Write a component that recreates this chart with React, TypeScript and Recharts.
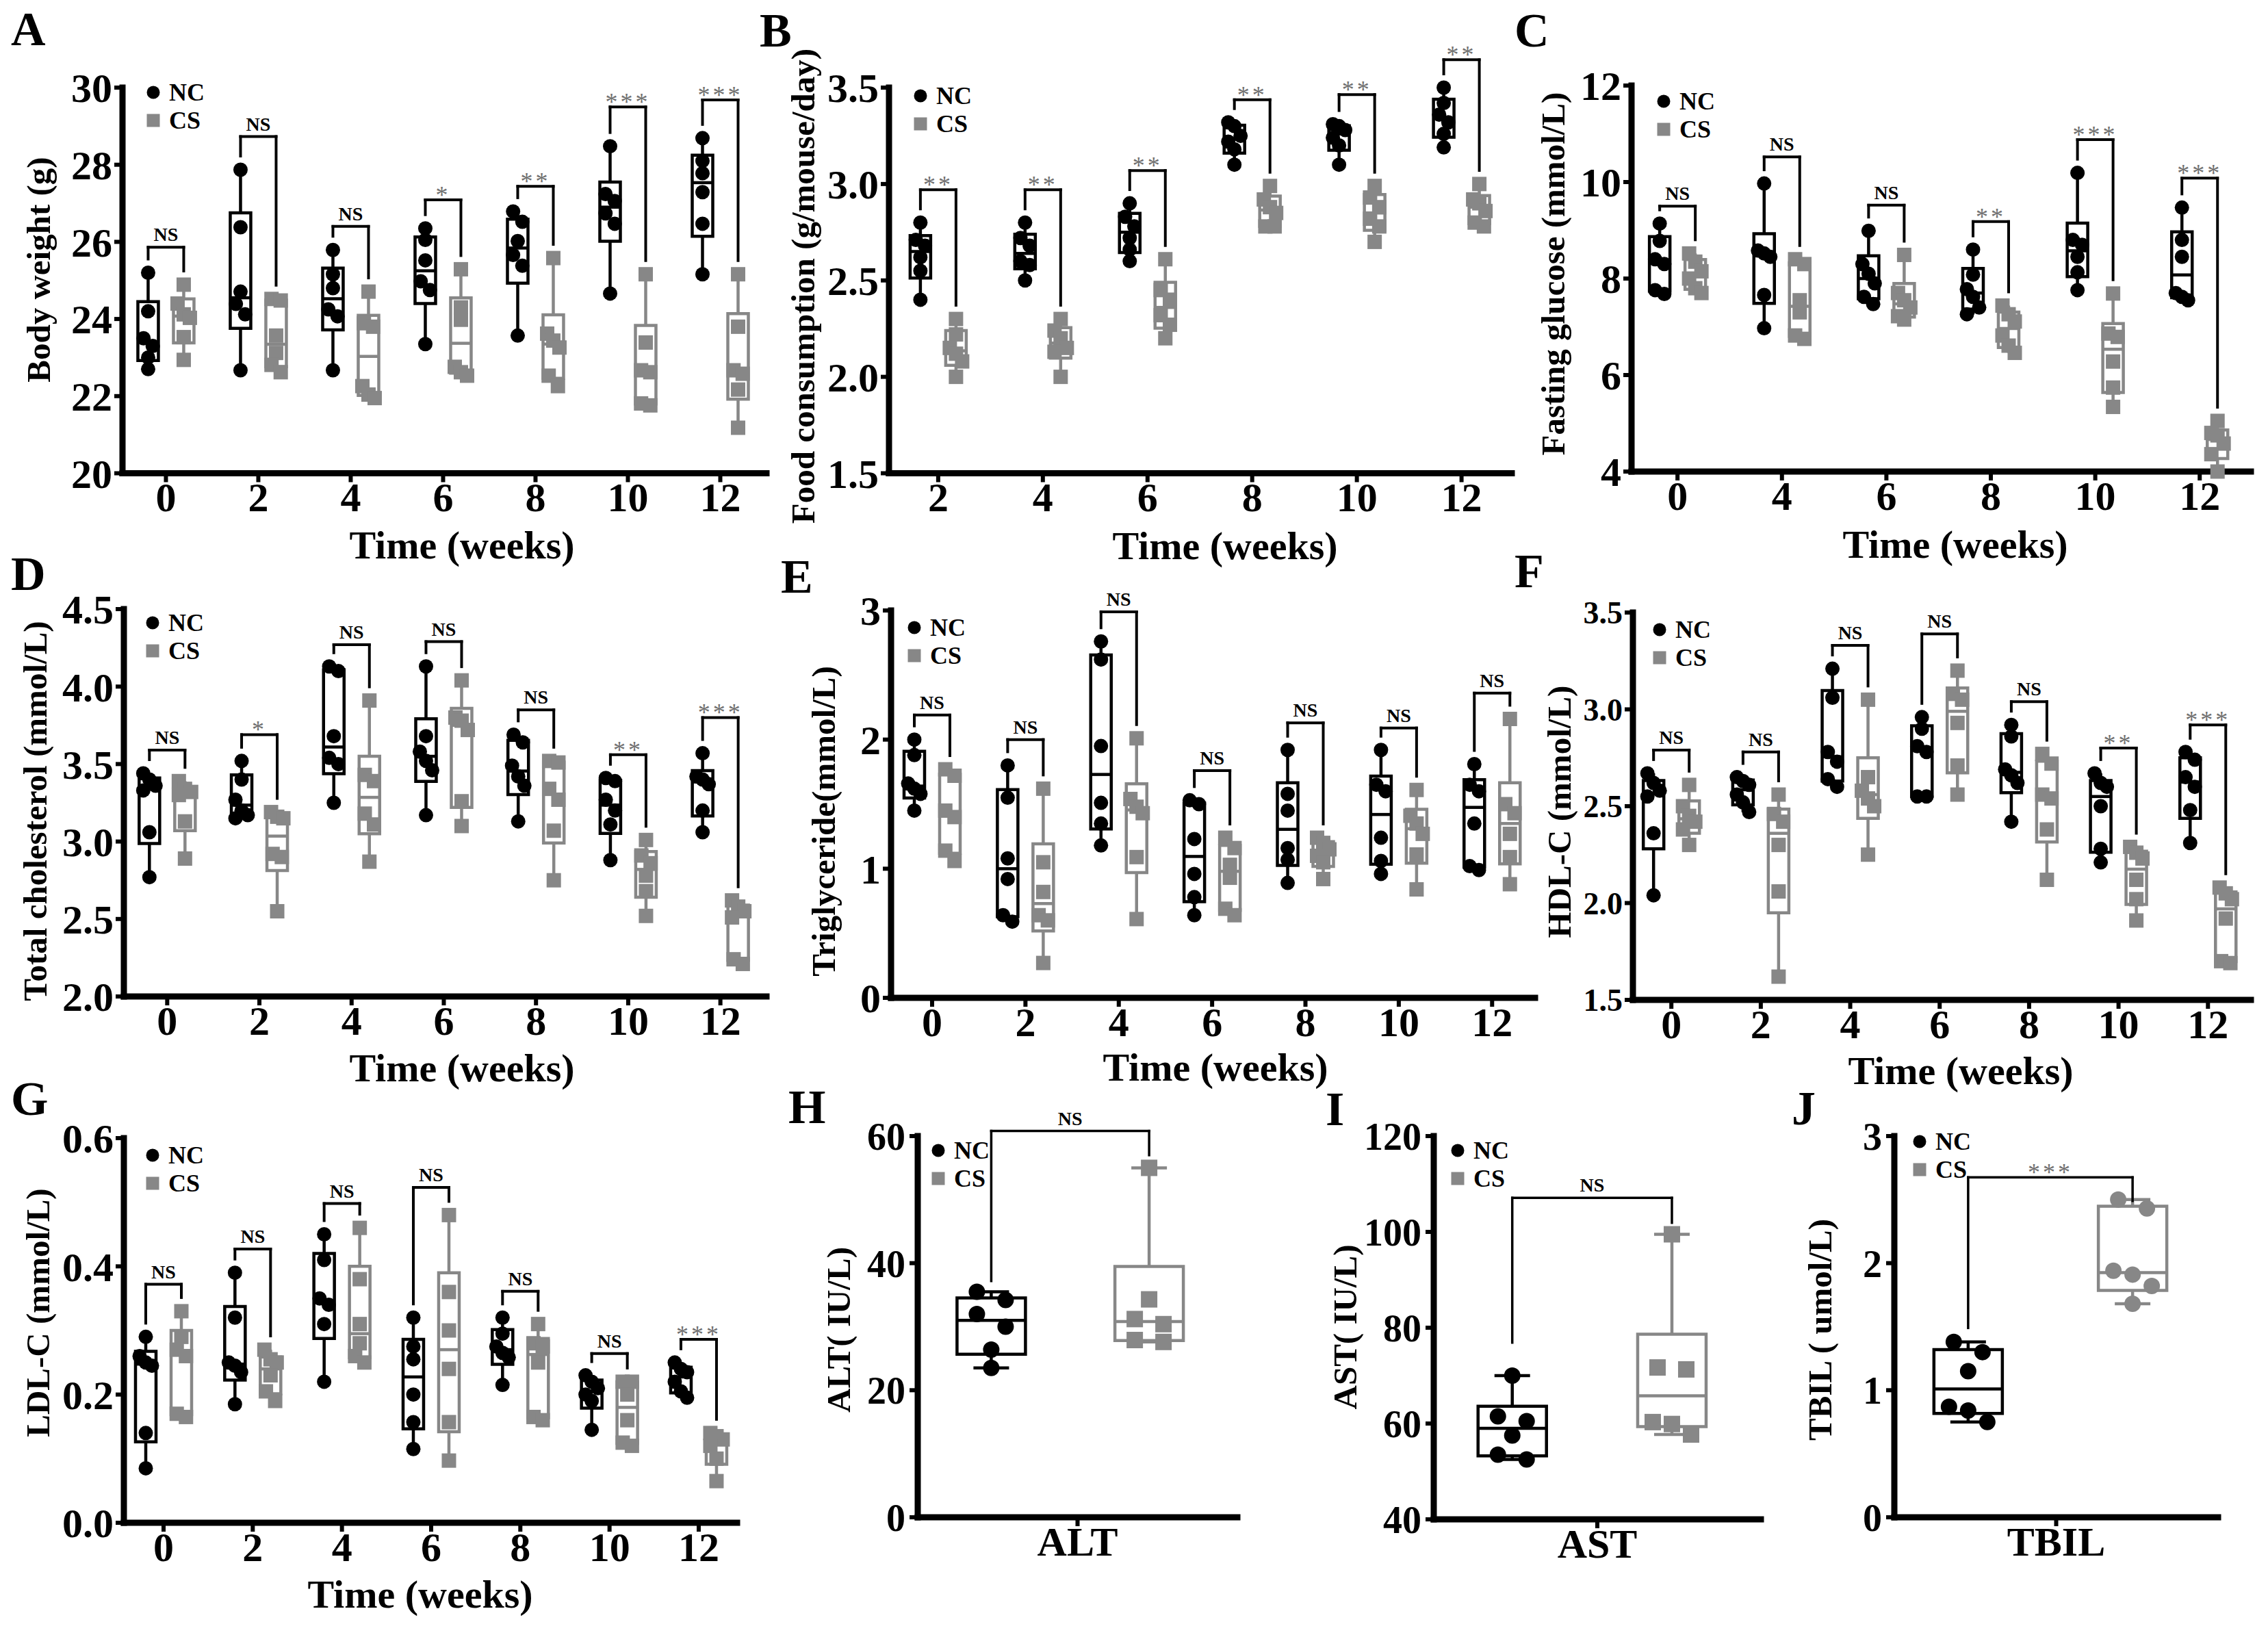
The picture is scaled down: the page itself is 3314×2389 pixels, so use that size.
import React from "react";
import {
  ScatterChart,
  Scatter,
  XAxis,
  YAxis,
  ReferenceArea,
  ReferenceLine,
  ReferenceDot,
} from "recharts";

const FONT = '"Liberation Serif", "Times New Roman", Times, serif';
const NC_COLOR = "#000000";
const CS_COLOR = "#878787";
const STAR_COLOR = "#707070";

// ---------- categories ----------
const weeks7 = ["0", "2", "4", "6", "8", "10", "12"];
const weeksFood = ["2", "4", "6", "8", "10", "12"];
const weeksGlucose = ["0", "4", "6", "8", "10", "12"];

// ---------- A: body weight (g) ----------
const bodyWeightNC = [
  [25.2, 24.2, 23.5, 23.3, 23.0, 22.7],
  [27.87, 26.38, 24.71, 24.39, 24.12, 22.67],
  [25.79, 25.16, 24.8, 24.25, 24.07, 22.67],
  [26.35, 26.05, 25.52, 24.98, 24.75, 23.35],
  [26.79, 26.52, 26.02, 25.66, 25.38, 23.57],
  [28.48, 27.24, 27.06, 26.74, 26.47, 24.66],
  [28.69, 28.1, 27.78, 27.29, 26.47, 25.16],
];
const bodyWeightCS = [
  [24.89, 24.4, 24.12, 24.03, 23.53, 22.94],
  [24.52, 24.48, 23.57, 23.12, 22.81, 22.62],
  [24.71, 23.89, 23.8, 22.26, 22.04, 21.95],
  [25.29, 24.3, 23.98, 22.76, 22.62, 22.53],
  [25.58, 23.62, 23.44, 23.26, 22.53, 22.26],
  [25.16, 23.39, 22.67, 22.62, 21.81, 21.76],
  [25.16, 23.8, 22.67, 22.58, 22.17, 21.18],
];
const bodyWeightTop = [25.86, 28.73, 26.4, 27.09, 27.44, 29.5, 29.68];
const bodyWeightSig = ["NS", "NS", "NS", "*", "**", "***", "***"];

// ---------- B: food consumption ----------
const foodNC = [
  [2.8, 2.71, 2.68, 2.62, 2.55, 2.4],
  [2.8, 2.72, 2.68, 2.6, 2.58, 2.5],
  [2.9, 2.83, 2.78, 2.72, 2.66, 2.6],
  [3.32, 3.3, 3.25, 3.22, 3.18, 3.1],
  [3.31, 3.3, 3.28, 3.24, 3.2, 3.1],
  [3.5, 3.42, 3.36, 3.32, 3.26, 3.19],
];
const foodCS = [
  [2.3, 2.22, 2.15, 2.12, 2.08, 2.0],
  [2.3, 2.24, 2.2, 2.15, 2.13, 2.0],
  [2.61, 2.45, 2.4, 2.32, 2.27, 2.2],
  [2.99, 2.92, 2.88, 2.85, 2.78, 2.78],
  [2.99, 2.93, 2.88, 2.82, 2.78, 2.7],
  [3.0, 2.92, 2.9, 2.86, 2.8, 2.78],
];
const foodTop = [2.97, 2.97, 3.07, 3.437, 3.464, 3.645];
const foodSig = ["**", "**", "**", "**", "**", "**"];

// ---------- C: fasting glucose ----------
const glucoseNC = [
  [9.14, 8.78, 8.4, 8.3, 7.76, 7.68],
  [9.97, 8.58, 8.52, 8.45, 7.66, 6.97],
  [8.99, 8.3, 8.1, 7.9, 7.62, 7.47],
  [8.6, 8.08, 7.78, 7.62, 7.4, 7.26],
  [10.19, 8.8, 8.7, 8.45, 8.13, 7.76],
  [9.47, 8.8, 8.45, 7.7, 7.62, 7.55],
];
const glucoseCS = [
  [8.52, 8.35, 8.15, 8.0, 7.8, 7.7],
  [8.4, 8.3, 7.55, 7.3, 6.82, 6.75],
  [8.49, 7.7, 7.55, 7.4, 7.22, 7.15],
  [7.44, 7.26, 7.11, 6.82, 6.61, 6.46],
  [7.69, 6.86, 6.79, 6.28, 5.74, 5.34],
  [5.05, 4.8, 4.75, 4.58, 4.36, 4.0],
];
const glucoseTop = [9.5, 10.52, 9.52, 9.18, 10.88, 10.08];
const glucoseSig = ["NS", "NS", "NS", "**", "***", "***"];

// ---------- D: total cholesterol ----------
const cholNC = [
  [3.44, 3.4, 3.36, 3.33, 3.06, 2.77],
  [3.52, 3.4, 3.27, 3.2, 3.17, 3.15],
  [4.13, 4.1, 3.68, 3.54, 3.5, 3.25],
  [4.13, 3.68, 3.58, 3.52, 3.46, 3.17],
  [3.69, 3.64, 3.49, 3.42, 3.36, 3.13],
  [3.41, 3.39, 3.27, 3.2, 3.11, 2.88],
  [3.57, 3.42, 3.4, 3.37, 3.2, 3.06],
];
const cholCS = [
  [3.39, 3.34, 3.32, 3.3, 3.13, 2.89],
  [3.19, 3.16, 3.15, 2.92, 2.9, 2.55],
  [3.91, 3.43, 3.39, 3.18, 3.11, 2.87],
  [4.04, 3.8, 3.78, 3.72, 3.26, 3.1],
  [3.52, 3.51, 3.34, 3.27, 3.07, 2.75],
  [3.01, 2.91, 2.86, 2.78, 2.68, 2.52],
  [2.62, 2.58, 2.55, 2.51, 2.24, 2.21],
];
const cholTop = [3.59, 3.69, 4.27, 4.29, 3.85, 3.56, 3.8];
const cholSig = ["NS", "*", "NS", "NS", "NS", "**", "***"];

// ---------- E: triglyceride ----------
const tgNC = [
  [2.0, 1.88, 1.66, 1.62, 1.58, 1.45],
  [1.8, 1.55, 1.08, 0.92, 0.64, 0.59],
  [2.76, 2.62, 1.95, 1.51, 1.35, 1.18],
  [1.53, 1.5, 1.23, 0.96, 0.78, 0.64],
  [1.92, 1.58, 1.45, 1.16, 1.07, 0.89],
  [1.92, 1.65, 1.6, 1.24, 1.06, 0.96],
  [1.81, 1.65, 1.6, 1.35, 1.02, 0.99],
];
const tgCS = [
  [1.77, 1.72, 1.45, 1.4, 1.14, 1.06],
  [1.62, 1.05, 0.82, 0.64, 0.6, 0.27],
  [2.01, 1.54, 1.48, 1.43, 1.09, 0.61],
  [1.24, 1.16, 1.03, 0.93, 0.69, 0.64],
  [1.24, 1.2, 1.15, 1.1, 1.05, 0.92],
  [1.61, 1.41, 1.35, 1.27, 1.11, 0.84],
  [2.16, 1.5, 1.43, 1.27, 1.09, 0.88],
];
const tgTop = [2.19, 2.0, 2.99, 1.76, 2.13, 2.09, 2.36];
const tgSig = ["NS", "NS", "NS", "NS", "NS", "NS", "NS"];

// ---------- F: HDL-C ----------
const hdlNC = [
  [2.67, 2.62, 2.58, 2.55, 2.36, 2.04],
  [2.65, 2.63, 2.61, 2.56, 2.52, 2.47],
  [3.21, 3.06, 2.78, 2.73, 2.64, 2.6],
  [2.96, 2.9, 2.81, 2.78, 2.55, 2.55],
  [2.92, 2.86, 2.69, 2.66, 2.62, 2.42],
  [2.67, 2.62, 2.6, 2.5, 2.28, 2.21],
  [2.78, 2.74, 2.65, 2.6, 2.48, 2.31],
];
const hdlCS = [
  [2.61, 2.5, 2.45, 2.42, 2.38, 2.3],
  [2.56, 2.46, 2.42, 2.3, 2.06, 1.62],
  [3.05, 2.65, 2.58, 2.54, 2.5, 2.25],
  [3.2, 3.08, 3.05, 2.93, 2.71, 2.56],
  [2.77, 2.72, 2.56, 2.54, 2.38, 2.12],
  [2.29, 2.26, 2.23, 2.12, 2.02, 1.91],
  [2.08, 2.05, 2.02, 1.92, 1.7, 1.69],
];
const hdlTop = [2.79, 2.78, 3.33, 3.39, 3.04, 2.8, 2.92];
const hdlSig = ["NS", "NS", "NS", "NS", "NS", "**", "***"];

// ---------- G: LDL-C ----------
const ldlNC = [
  [0.29, 0.26, 0.25, 0.245, 0.14, 0.085],
  [0.39, 0.32, 0.25, 0.245, 0.235, 0.185],
  [0.45, 0.41, 0.35, 0.34, 0.31, 0.22],
  [0.32, 0.275, 0.255, 0.2, 0.157, 0.115],
  [0.32, 0.295, 0.275, 0.265, 0.258, 0.215],
  [0.23, 0.22, 0.21, 0.2, 0.19, 0.145],
  [0.25, 0.24, 0.235, 0.22, 0.205, 0.195],
];
const ldlCS = [
  [0.33, 0.29, 0.27, 0.26, 0.17, 0.165],
  [0.27, 0.255, 0.25, 0.23, 0.205, 0.19],
  [0.46, 0.38, 0.31, 0.28, 0.26, 0.25],
  [0.48, 0.36, 0.3, 0.24, 0.157, 0.097],
  [0.31, 0.28, 0.275, 0.25, 0.165, 0.16],
  [0.22, 0.22, 0.2, 0.16, 0.125, 0.12],
  [0.14, 0.135, 0.13, 0.12, 0.1, 0.065],
];
const ldlTop = [0.372, 0.427, 0.498, 0.523, 0.361, 0.264, 0.286];
const ldlSig = ["NS", "NS", "NS", "NS", "NS", "NS", "***"];

// ---------- H, I, J: liver markers ----------
const altNC = [[35.5, 34.2, 32.0, 30.0, 26.4, 23.5]];
const altCS = [[55.0, 34.3, 31.2, 30.4, 27.9, 27.6]];
const altTop = [60.8];
const altLegs: [number, number][] = [[37.2, 57.0]];
const altSig = ["NS"];

const astNC = [[70.0, 61.5, 60.5, 57.5, 53.5, 52.5]];
const astCS = [[99.5, 71.7, 71.3, 60.3, 59.9, 57.7]];
const astTop = [107.1];
const astLegs: [number, number][] = [[76.9, 101.9]];
const astSig = ["NS"];

const tbilNC = [[1.38, 1.3, 1.15, 0.87, 0.84, 0.75]];
const tbilCS = [[2.5, 2.43, 1.94, 1.91, 1.82, 1.68]];
const tbilTop = [2.675];
const tbilLegs: [number, number][] = [[1.49, 2.49]];
const tbilSig = ["***"];

// ---------- helpers ----------
function boxStats(vals: number[]) {
  const s = [...vals].sort((a, b) => a - b);
  const n = s.length;
  const at = (p: number) => {
    const h = (n + 1) * p;
    const lo = Math.floor(h);
    if (lo < 1) return s[0];
    if (lo >= n) return s[n - 1];
    return s[lo - 1] + (h - lo) * (s[lo] - s[lo - 1]);
  };
  return { min: s[0], q1: at(0.25), med: at(0.5), q3: at(0.75), max: s[n - 1] };
}

// horizontal spreading of overlapping points (in px)
function spreadOffsets(vals: number[], pxPerUnit: number, r: number, step: number) {
  const order = vals.map((_, i) => i).sort((a, b) => vals[b] - vals[a]);
  const off = vals.map(() => 0);
  let cluster: number[] = [];
  const flush = () => {
    if (cluster.length === 2) {
      off[cluster[0]] = -0.75 * step;
      off[cluster[1]] = 0.75 * step;
    } else if (cluster.length >= 3) {
      cluster.forEach((id, j) => {
        off[id] = ((j % 3) - 1) * step;
      });
    }
  };
  order.forEach((id, j) => {
    if (j > 0 && (vals[order[j - 1]] - vals[id]) * pxPerUnit < 1.6 * r) cluster.push(id);
    else {
      flush();
      cluster = [id];
    }
  });
  flush();
  return off;
}

type PanelCfg = {
  letter: string;
  letterAt: [number, number];
  plot: { left: number; top: number; right: number; bottom: number };
  yDomain: [number, number];
  yTicks: number[];
  yDec: number;
  yFont: number;
  xDomain: [number, number];
  xTicks: number[];
  xLabels: string[];
  nc: number[][];
  cs: number[][];
  tops: number[];
  sig: string[];
  legs?: [number, number][];
  centers?: [number, number];
  yTitle: string;
  yTitleAt: [number, number];
  xTitleAt?: [number, number];
  legendAt: [number, number];
  single?: boolean;
  csCircle?: boolean;
};

const idx = (n: number) => Array.from({ length: n }, (_, i) => i);

const panels: PanelCfg[] = [
  {
    letter: "A", letterAt: [16, 20],
    plot: { left: 179, top: 127.5, right: 1120, bottom: 691 },
    yDomain: [20, 30], yTicks: [20, 22, 24, 26, 28, 30], yDec: 0, yFont: 60,
    xDomain: [-0.47, 6.5], xTicks: idx(7), xLabels: weeks7,
    nc: bodyWeightNC, cs: bodyWeightCS, tops: bodyWeightTop, sig: bodyWeightSig,
    yTitle: "Body weight (g)", yTitleAt: [61, 394], xTitleAt: [675, 803], legendAt: [224, 135],
  },
  {
    letter: "B", letterAt: [1110, 22],
    plot: { left: 1299, top: 127.5, right: 2209, bottom: 691 },
    yDomain: [1.5, 3.5], yTicks: [1.5, 2, 2.5, 3, 3.5], yDec: 1, yFont: 60,
    xDomain: [-0.47, 5.48], xTicks: idx(6), xLabels: weeksFood,
    nc: foodNC, cs: foodCS, tops: foodTop, sig: foodSig,
    yTitle: "Food consumption (g/mouse/day)", yTitleAt: [1178, 418], xTitleAt: [1790, 804], legendAt: [1345, 140],
  },
  {
    letter: "C", letterAt: [2213, 22],
    plot: { left: 2384, top: 125, right: 3289, bottom: 689 },
    yDomain: [4, 12], yTicks: [4, 6, 8, 10, 12], yDec: 0, yFont: 60,
    xDomain: [-0.44, 5.49], xTicks: idx(6), xLabels: weeksGlucose,
    nc: glucoseNC, cs: glucoseCS, tops: glucoseTop, sig: glucoseSig,
    yTitle: "Fasting glucose (mmol/L)", yTitleAt: [2274, 400], xTitleAt: [2857, 802], legendAt: [2431, 148],
  },
  {
    letter: "D", letterAt: [16, 816],
    plot: { left: 181, top: 890, right: 1120, bottom: 1456 },
    yDomain: [2, 4.5], yTicks: [2, 2.5, 3, 3.5, 4, 4.5], yDec: 1, yFont: 60,
    xDomain: [-0.47, 6.5], xTicks: idx(7), xLabels: weeks7,
    nc: cholNC, cs: cholCS, tops: cholTop, sig: cholSig,
    yTitle: "Total cholesterol (mmol/L)", yTitleAt: [56, 1185], xTitleAt: [675, 1567], legendAt: [223, 910],
  },
  {
    letter: "E", letterAt: [1141, 820],
    plot: { left: 1302, top: 892, right: 2243, bottom: 1458 },
    yDomain: [0, 3], yTicks: [0, 1, 2, 3], yDec: 0, yFont: 60,
    xDomain: [-0.44, 6.46], xTicks: idx(7), xLabels: weeks7,
    nc: tgNC, cs: tgCS, tops: tgTop, sig: tgSig,
    yTitle: "Triglyceride(mmol/L)", yTitleAt: [1208, 1200], xTitleAt: [1776, 1566], legendAt: [1336, 917],
  },
  {
    letter: "F", letterAt: [2213, 812],
    plot: { left: 2386, top: 895, right: 3289, bottom: 1461 },
    yDomain: [1.5, 3.5], yTicks: [1.5, 2, 2.5, 3, 3.5], yDec: 1, yFont: 46,
    xDomain: [-0.43, 6.48], xTicks: idx(7), xLabels: weeks7,
    nc: hdlNC, cs: hdlCS, tops: hdlTop, sig: hdlSig,
    yTitle: "HDL-C (mmol/L)", yTitleAt: [2283, 1186], xTitleAt: [2865, 1571], legendAt: [2425, 920],
  },
  {
    letter: "G", letterAt: [16, 1583],
    plot: { left: 181, top: 1663, right: 1077, bottom: 2225 },
    yDomain: [0, 0.6], yTicks: [0, 0.2, 0.4, 0.6], yDec: 1, yFont: 60,
    xDomain: [-0.445, 6.43], xTicks: idx(7), xLabels: weeks7,
    nc: ldlNC, cs: ldlCS, tops: ldlTop, sig: ldlSig,
    yTitle: "LDL-C (mmol/L)", yTitleAt: [60, 1918], xTitleAt: [614, 2336], legendAt: [223, 1688],
  },
  {
    letter: "H", letterAt: [1152, 1595],
    plot: { left: 1341, top: 1660, right: 1808, bottom: 2217 },
    yDomain: [0, 60], yTicks: [0, 20, 40, 60], yDec: 0, yFont: 56,
    xDomain: [0, 1], xTicks: [0.5], xLabels: ["ALT"],
    nc: altNC, cs: altCS, tops: altTop, sig: altSig, legs: altLegs, centers: [0.23, 0.724],
    yTitle: "ALT( IU/L)", yTitleAt: [1230, 1943], legendAt: [1371, 1681], single: true,
  },
  {
    letter: "I", letterAt: [1937, 1598],
    plot: { left: 2095, top: 1660, right: 2573, bottom: 2220 },
    yDomain: [40, 120], yTicks: [40, 60, 80, 100, 120], yDec: 0, yFont: 56,
    xDomain: [0, 1], xTicks: [0.5], xLabels: ["AST"],
    nc: astNC, cs: astCS, tops: astTop, sig: astSig, legs: astLegs, centers: [0.24, 0.728],
    yTitle: "AST( IU/L)", yTitleAt: [1970, 1939], legendAt: [2130, 1681], single: true,
  },
  {
    letter: "J", letterAt: [2618, 1597],
    plot: { left: 2768, top: 1660, right: 3241, bottom: 2217 },
    yDomain: [0, 3], yTicks: [0, 1, 2, 3], yDec: 0, yFont: 56,
    xDomain: [0, 1], xTicks: [0.5], xLabels: ["TBIL"],
    nc: tbilNC, cs: tbilCS, tops: tbilTop, sig: tbilSig, legs: tbilLegs, centers: [0.228, 0.736],
    yTitle: "TBIL ( umol/L)", yTitleAt: [2664, 1943], legendAt: [2805, 1668], single: true, csCircle: true,
  },
];

const YW = 170;
const MT = 130;
const MR = 20;
const XH = 120;

function Panel({ cfg }: { cfg: PanelCfg }) {
  const { plot } = cfg;
  const plotW = plot.right - plot.left;
  const plotH = plot.bottom - plot.top;
  const uX = plotW / (cfg.xDomain[1] - cfg.xDomain[0]);
  const uY = plotH / (cfg.yDomain[1] - cfg.yDomain[0]);
  const single = !!cfg.single;
  const boxHalf = (single ? 50 : 15) / uX;
  const capHalf = 26 / uX;
  const sw = 4.5;
  const r = single ? 12 : 10.5;
  const step = single ? 28 : 9;
  const lift = 20 / uY;
  const bw = single ? 3.5 : 4;

  const ncPts: { x: number; y: number }[] = [];
  const csPts: { x: number; y: number }[] = [];
  const areas: React.ReactElement[] = [];
  const lines: React.ReactElement[] = [];
  const labels: React.ReactElement[] = [];

  cfg.nc.forEach((ncVals, g) => {
    const csVals = cfg.cs[g];
    const xs = single && cfg.centers ? cfg.centers : [g - 26 / uX, g + 26 / uX];
    [ncVals, csVals].forEach((vals, s) => {
      const color = s === 0 ? NC_COLOR : CS_COLOR;
      const cx = xs[s];
      const st = boxStats(vals);
      const k = `${g}-${s}`;
      areas.push(
        <ReferenceArea
          key={`box${k}`}
          x1={cx - boxHalf}
          x2={cx + boxHalf}
          y1={st.q1}
          y2={st.q3}
          fill="none"
          fillOpacity={0}
          stroke={color}
          strokeWidth={sw}
          ifOverflow="visible"
        />
      );
      const seg = (id: string, x1: number, y1: number, x2: number, y2: number) =>
        lines.push(
          <ReferenceLine
            key={id + k}
            segment={[{ x: x1, y: y1 }, { x: x2, y: y2 }]}
            stroke={color}
            strokeWidth={sw}
            ifOverflow="visible"
          />
        );
      seg("med", cx - boxHalf, st.med, cx + boxHalf, st.med);
      seg("wt", cx, st.q3, cx, st.max);
      seg("wb", cx, st.q1, cx, st.min);
      if (single) {
        seg("ct", cx - capHalf, st.max, cx + capHalf, st.max);
        seg("cb", cx - capHalf, st.min, cx + capHalf, st.min);
      }
      const off = spreadOffsets(vals, uY, r, step);
      vals.forEach((v, i) => (s === 0 ? ncPts : csPts).push({ x: cx + off[i] / uX, y: v }));
    });

    const top = cfg.tops[g];
    const legL = cfg.legs ? cfg.legs[g][0] : Math.max(...ncVals) + lift;
    const legR = cfg.legs ? cfg.legs[g][1] : Math.max(...csVals) + lift;
    const bracket = (id: string, x1: number, y1: number, x2: number, y2: number) =>
      lines.push(
        <ReferenceLine
          key={`${id}${g}`}
          segment={[{ x: x1, y: y1 }, { x: x2, y: y2 }]}
          stroke="#000"
          strokeWidth={bw}
          strokeLinecap="square"
          ifOverflow="visible"
        />
      );
    bracket("bl", xs[0], legL, xs[0], top);
    bracket("bt", xs[0], top, xs[1], top);
    bracket("br", xs[1], top, xs[1], legR);

    const text = cfg.sig[g];
    const star = text.includes("*");
    labels.push(
      <ReferenceDot
        key={`sig${g}`}
        x={(xs[0] + xs[1]) / 2}
        y={top}
        r={0}
        ifOverflow="visible"
        shape={(p: any) => (
          <text
            x={p.cx}
            y={star ? p.cy + 5 : p.cy - 9}
            textAnchor="middle"
            fontFamily={FONT}
            fontSize={star ? 36 : 28}
            fontWeight={star ? 400 : 700}
            letterSpacing={star ? 4 : 0}
            fill={star ? STAR_COLOR : "#000"}
          >
            {text}
          </text>
        )}
      />
    );
  });

  const fmtX = (v: number) => {
    const i = cfg.xTicks.findIndex((t) => Math.abs(t - v) < 1e-6);
    return i >= 0 ? cfg.xLabels[i] : "";
  };

  const [lx, ly] = cfg.legendAt;
  const [tx, ty] = cfg.yTitleAt;

  return (
    <>
      <div
        style={{
          position: "absolute",
          left: cfg.letterAt[0],
          top: cfg.letterAt[1] - 12,
          fontSize: 70,
          fontWeight: 700,
          lineHeight: 1,
          fontFamily: FONT,
        }}
      >
        {cfg.letter}
      </div>

      <div style={{ position: "absolute", left: plot.left - YW, top: plot.top - MT }}>
        <ScatterChart
          width={plotW + YW + MR}
          height={plotH + MT + XH}
          margin={{ top: MT, right: MR, bottom: 0, left: 0 }}
        >
          <XAxis
            type="number"
            dataKey="x"
            domain={cfg.xDomain}
            ticks={cfg.xTicks}
            interval={0}
            height={XH}
            tickFormatter={fmtX}
            axisLine={{ stroke: "#000", strokeWidth: 9, strokeLinecap: "square" }}
            tickLine={{ stroke: "#000", strokeWidth: 6 }}
            tickSize={13}
            tickMargin={0}
            tick={{ fill: "#000", fontSize: 60, fontWeight: 700, fontFamily: FONT }}
          />
          <YAxis
            type="number"
            dataKey="y"
            domain={cfg.yDomain}
            ticks={cfg.yTicks}
            interval={0}
            width={YW}
            tickFormatter={(v: number) => Number(v).toFixed(cfg.yDec)}
            axisLine={{ stroke: "#000", strokeWidth: 9, strokeLinecap: "square" }}
            tickLine={{ stroke: "#000", strokeWidth: 6 }}
            tickSize={12}
            tickMargin={single ? 6 : 3}
            tick={{ fill: "#000", fontSize: cfg.yFont, fontWeight: 700, fontFamily: FONT }}
          />
          {areas}
          {lines}
          <Scatter
            data={ncPts}
            isAnimationActive={false}
            shape={(p: any) => <circle cx={p.cx} cy={p.cy} r={r} fill={NC_COLOR} />}
          />
          <Scatter
            data={csPts}
            isAnimationActive={false}
            shape={(p: any) =>
              cfg.csCircle ? (
                <circle cx={p.cx} cy={p.cy} r={r} fill={CS_COLOR} />
              ) : (
                <rect x={p.cx - r} y={p.cy - r} width={2 * r} height={2 * r} fill={CS_COLOR} />
              )
            }
          />
          {labels}
        </ScatterChart>
      </div>

      <div
        style={{
          position: "absolute",
          left: tx - 5,
          top: ty,
          transform: "translate(-50%, -50%) rotate(-90deg)",
          fontSize: 49,
          lineHeight: 1,
          fontWeight: 700,
          fontFamily: FONT,
          whiteSpace: "nowrap",
        }}
      >
        {cfg.yTitle}
      </div>

      {cfg.xTitleAt && (
        <div
          style={{
            position: "absolute",
            left: cfg.xTitleAt[0],
            top: cfg.xTitleAt[1] - 0.6 * 58,
            transform: "translateX(-50%)",
            fontSize: 58,
            fontWeight: 700,
            lineHeight: 1,
            fontFamily: FONT,
            whiteSpace: "nowrap",
          }}
        >
          Time (weeks)
        </div>
      )}

      <svg
        style={{ position: "absolute", left: lx - 12, top: ly - 12, overflow: "visible" }}
        width={24}
        height={66}
      >
        <circle cx={12} cy={12} r={9.5} fill={NC_COLOR} />
        <rect x={2.5} y={43.5} width={19} height={19} fill={CS_COLOR} />
      </svg>
      {["NC", "CS"].map((t, i) => (
        <div
          key={t}
          style={{
            position: "absolute",
            left: lx + 23,
            top: ly + i * 41 - 18,
            fontSize: 36,
            fontWeight: 700,
            lineHeight: 1,
            fontFamily: FONT,
          }}
        >
          {t}
        </div>
      ))}
    </>
  );
}

export default function App() {
  return (
    <div
      style={{
        position: "absolute",
        left: 0,
        top: 0,
        width: 3314,
        height: 2389,
        background: "#fff",
        overflow: "hidden",
        fontFamily: FONT,
      }}
    >
      {panels.map((p) => (
        <Panel key={p.letter} cfg={p} />
      ))}
    </div>
  );
}
